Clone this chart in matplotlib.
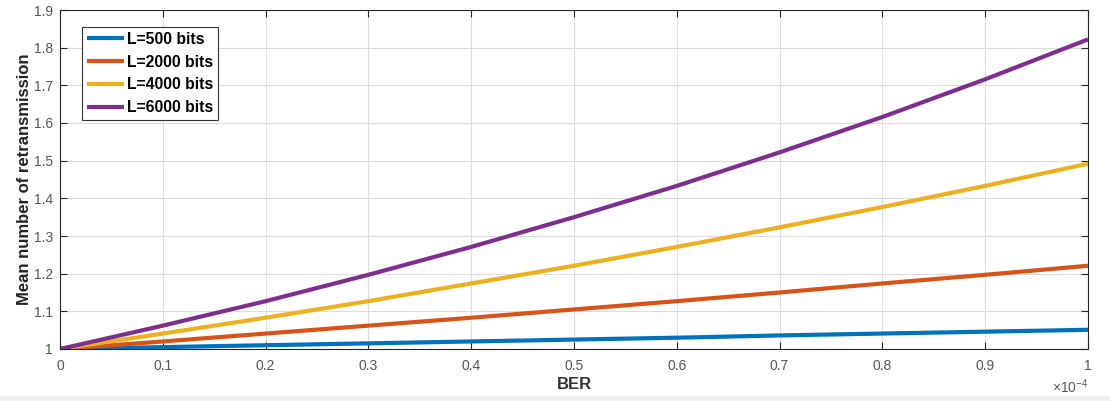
import matplotlib
matplotlib.use("Agg")
import matplotlib.pyplot as plt
from matplotlib.patches import Rectangle

plt.rcParams['font.family'] = ['Liberation Sans', 'DejaVu Sans']
plt.rcParams['mathtext.fontset'] = 'custom'
plt.rcParams['mathtext.rm'] = 'Liberation Sans'

ber = [0.0, 0.1, 0.2, 0.3, 0.4, 0.5, 0.6, 0.7, 0.8, 0.9, 1.0]
l500 = [1.000, 1.005, 1.010, 1.015, 1.020, 1.025, 1.030, 1.036, 1.041, 1.046, 1.051]
l2000 = [1.000, 1.020, 1.041, 1.062, 1.083, 1.105, 1.127, 1.150, 1.174, 1.197, 1.221]
l4000 = [1.000, 1.041, 1.083, 1.127, 1.174, 1.221, 1.271, 1.323, 1.377, 1.433, 1.492]
l6000 = [1.000, 1.062, 1.127, 1.197, 1.271, 1.350, 1.433, 1.522, 1.616, 1.716, 1.822]
labels = ['L=500 bits', 'L=2000 bits', 'L=4000 bits', 'L=6000 bits']
colors = ['#0072BD', '#D95319', '#EDB120', '#7E2F8E']
xticks = [0, 0.1, 0.2, 0.3, 0.4, 0.5, 0.6, 0.7, 0.8, 0.9, 1]
xticklabels = ['0', '0.1', '0.2', '0.3', '0.4', '0.5', '0.6', '0.7', '0.8', '0.9', '1']
yticks = [1, 1.1, 1.2, 1.3, 1.4, 1.5, 1.6, 1.7, 1.8, 1.9]
yticklabels = ['1', '1.1', '1.2', '1.3', '1.4', '1.5', '1.6', '1.7', '1.8', '1.9']

fig = plt.figure(figsize=(11.10, 4.01), dpi=100)
fig.patches.append(Rectangle((0, 0), 1, 5/401, transform=fig.transFigure,
                             facecolor='#eef0f3', edgecolor='none', zorder=0))
ax = fig.add_axes([60/1110, 1 - 349/401, (1088-60)/1110, (349-10)/401])

for ys, lab, c in zip([l500, l2000, l4000, l6000], labels, colors):
    ax.plot(ber, ys, color=c, lw=3.0, label=lab, solid_capstyle='butt')

ax.set_xlim(0, 1)
ax.set_ylim(1, 1.9)
ax.set_xticks(xticks)
ax.set_xticklabels(xticklabels)
ax.set_yticks(yticks)
ax.set_yticklabels(yticklabels)
ax.grid(True, color='#dcdcdc', lw=0.8)
ax.set_axisbelow(True)
ax.tick_params(direction='in', top=True, right=True, length=5, width=0.8,
               labelsize=10, colors='#262626', labelcolor='#555555')
ax.tick_params(axis='x', pad=7)
ax.tick_params(axis='y', pad=5)
for s in ax.spines.values():
    s.set_color('#262626')
    s.set_linewidth(0.8)

ax.set_xlabel('BER', fontsize=12, fontweight='bold', color='#333333', labelpad=3)
ax.set_ylabel('Mean number of retransmission', fontsize=12, fontweight='bold',
              color='#222222', labelpad=1.5)
ax.text(1.0, -0.085, r'$\times10^{-4}$', transform=ax.transAxes, ha='right', va='top',
        fontsize=10, color='#555555')

leg = ax.legend(loc='upper left', bbox_to_anchor=(0.0215, 0.95), fancybox=False,
                framealpha=1, edgecolor='#333333', prop={'weight': 'bold', 'size': 11.3},
                handlelength=2.4, handletextpad=0.15, borderpad=0.3, labelspacing=0.5,
                borderaxespad=0)
leg.get_frame().set_linewidth(0.8)

fig.savefig('out.png', dpi=100)
